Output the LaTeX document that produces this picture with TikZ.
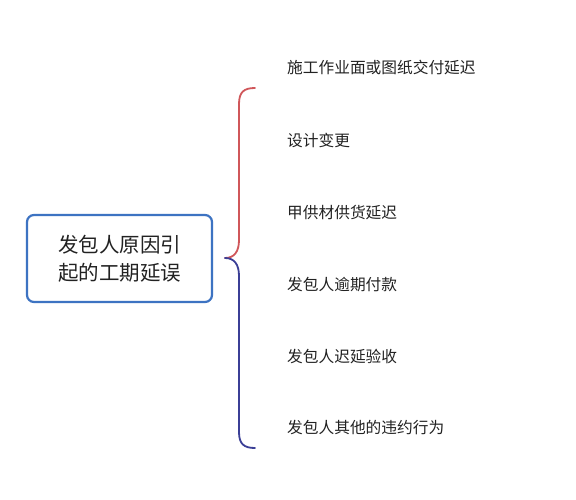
\documentclass[tikz,border=0pt]{standalone}
\usepackage{fontspec}
\setmainfont{Noto Sans CJK SC}
\definecolor{boxblue}{HTML}{3D73C2}
\definecolor{bracered}{HTML}{D0575A}
\definecolor{braceblue}{HTML}{3B3F96}
\definecolor{txt}{HTML}{222222}
\tikzset{
  mainbox/.style={draw=boxblue, line width=2.2pt, rounded corners=7pt, minimum width=185pt, minimum height=87pt, align=center, font=\fontsize{20.5}{28}\selectfont, text=txt, inner sep=0pt},
  item/.style={anchor=west, font=\fontsize{15.7}{18}\selectfont, text=txt, inner sep=0pt},
  bracepart/.style={line width=1.8pt, line cap=round}
}
\begin{document}
\begin{tikzpicture}[x=1pt,y=-1pt]
\useasboundingbox (0,0) rectangle (576,500);
\fill[white] (0,0) rectangle (576,500);
\node[mainbox] (main) at (119.5,258.5) {发包人原因引\\起的工期延误};
\node[item] (i1) at (287,68) {施工作业面或图纸交付延迟};
\node[item] (i2) at (287,140) {设计变更};
\node[item] (i3) at (287,213) {甲供材供货延迟};
\node[item] (i4) at (287,285) {发包人逾期付款};
\node[item] (i5) at (287,357) {发包人迟延验收};
\node[item] (i6) at (287,428) {发包人其他的违约行为};
\coordinate (tip) at (225,258);
\coordinate (top) at (255,88);
\coordinate (bot) at (255,448);
\draw[bracepart, bracered] (top) .. controls (244,88) and (239,92) .. (239,104) -- (239,240) .. controls (239,252) and (234,258) .. (tip);
\draw[bracepart, braceblue] (tip) .. controls (234,258) and (239,264) .. (239,276) -- (239,432) .. controls (239,444) and (244,448) .. (bot);
\end{tikzpicture}
\end{document}
